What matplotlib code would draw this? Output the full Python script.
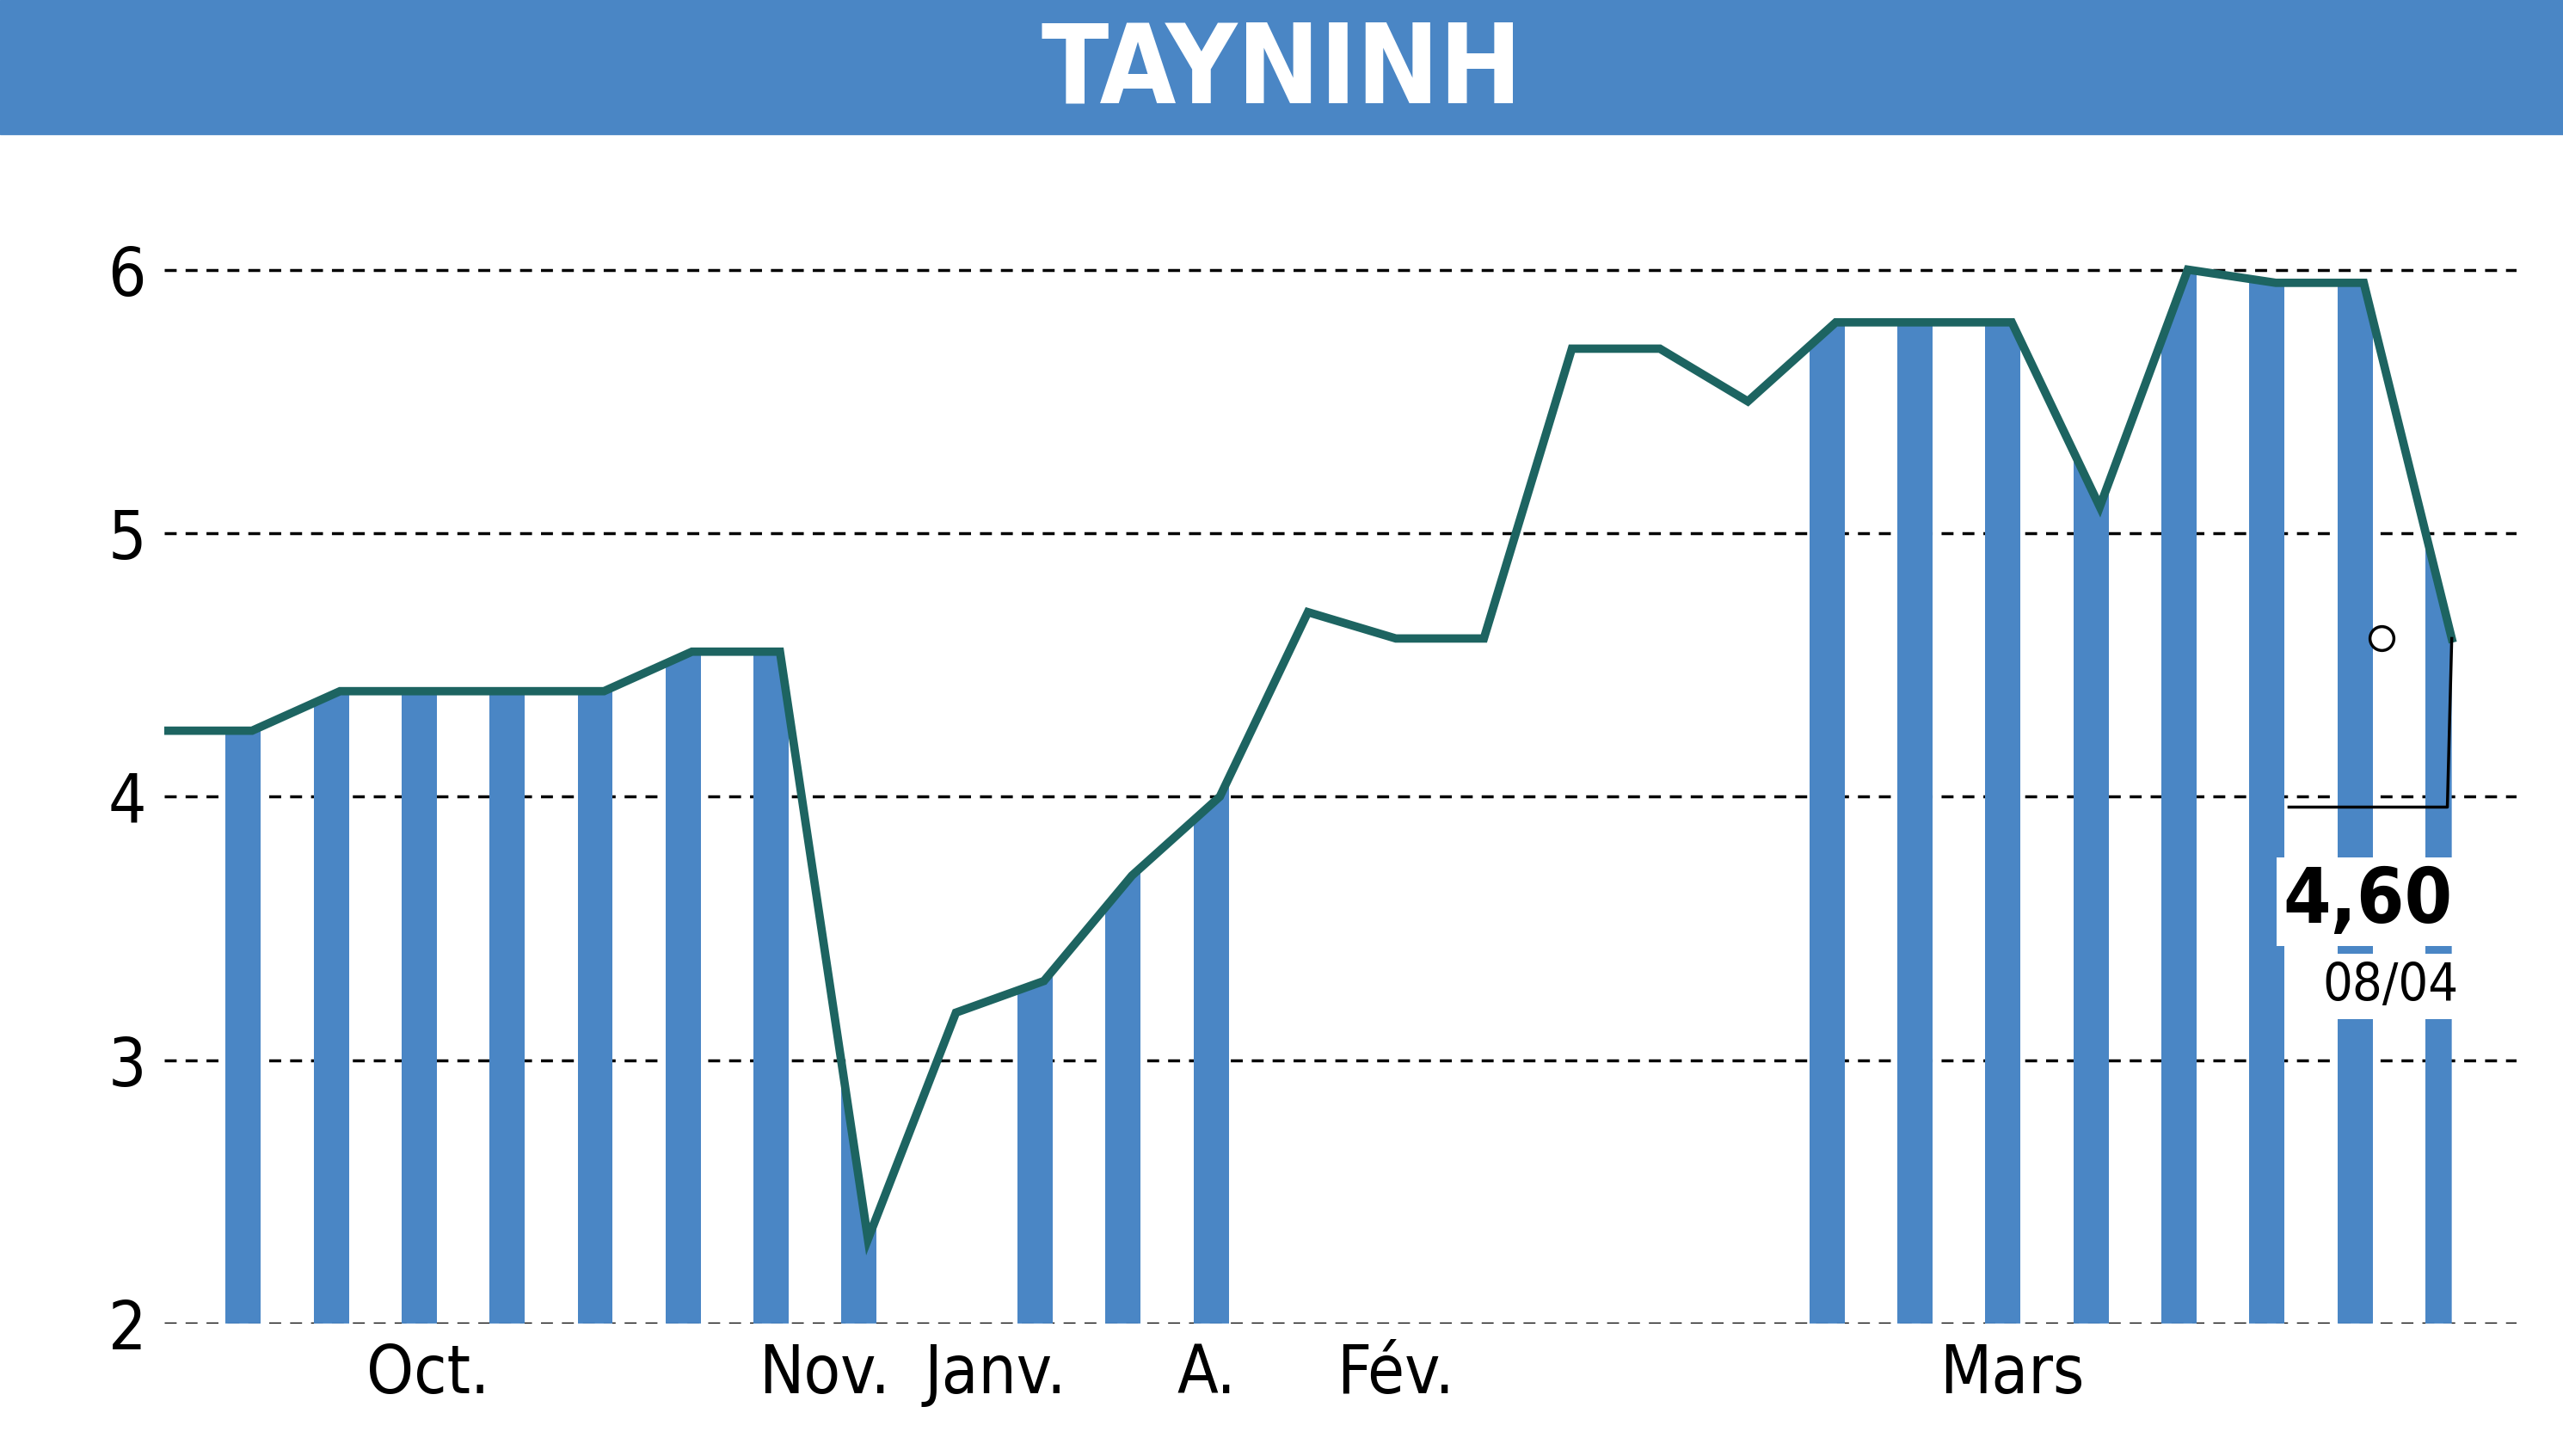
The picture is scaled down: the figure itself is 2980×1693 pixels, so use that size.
import matplotlib
matplotlib.use("Agg")
import matplotlib.pyplot as plt
from matplotlib.patches import Polygon, Rectangle
import numpy as np

values = [4.25, 4.25, 4.4, 4.4, 4.4, 4.4, 4.55, 4.55, 2.32, 3.18, 3.3, 3.7, 4.0, 4.7,
          4.6, 4.6, 5.7, 5.7, 5.5, 5.8, 5.8, 5.8, 5.1, 6.0, 5.95, 5.95, 4.6]
bar_idx = [1, 2, 3, 4, 5, 6, 7, 8, 10, 11, 12, 19, 20, 21, 22, 23, 24, 25, 26]
tick_pos = [3, 7.5, 9.45, 11.85, 14, 21]
tick_labels = ["Oct.", "Nov.", "Janv.", "A.", "Fév.", "Mars"]
title = "TAYNINH"
last_val, last_date = "4,60", "08/04"

blue = "#4a86c5"
green = "#1d6461"
fam = "DejaVu Sans"

fig = plt.figure(figsize=(29.8, 16.93), dpi=100)
fig.patches.append(Rectangle((0, 1 - 82 / 891), 1, 82 / 891, transform=fig.transFigure,
                             color=blue, zorder=0))
fig.text(0.5, 1 - 44 / 891, title, ha="center", va="center", color="white",
         fontsize=92, fontweight="bold", family=fam, fontstretch="condensed")

ax = fig.add_axes([0.064, 0.091, 0.918, 0.76])
x = np.arange(len(values))
ax.set_xlim(0, 26.74)
ax.set_ylim(2, 6.2)

poly = Polygon(list(zip(x, values)) + [(26, 2), (0, 2)], closed=True,
               facecolor="none", edgecolor="none", transform=ax.transData)
ax.add_patch(poly)
bars = ax.bar([i - 0.3 for i in bar_idx], [4.5] * len(bar_idx), bottom=2,
              width=0.4, align="edge", color=blue, zorder=2)
for b in bars:
    b.set_clip_path(poly)

for yv in [2, 3, 4, 5, 6]:
    ax.axhline(yv, color="black", ls=(0, (4, 3)), lw=2.5, zorder=1)

ax.plot(x, values, color=green, lw=7, zorder=3, solid_joinstyle="miter")

for s in ax.spines.values():
    s.set_visible(False)
ax.set_yticks([2, 3, 4, 5, 6])
ax.set_yticklabels(["2", "3", "4", "5", "6"])
ax.set_xticks(tick_pos)
ax.set_xticklabels(tick_labels)
ax.tick_params(length=0, labelsize=56, pad=15)
for t in ax.get_xticklabels() + ax.get_yticklabels():
    t.set_family(fam)
    t.set_fontstretch("condensed")

# annotation
ax.plot([25.2], [4.6], marker="o", ms=20, mfc="white", mec="black", mew=2.5, zorder=5)
ax.plot([26, 25.95, 24.15], [4.6, 3.96, 3.96], color="black", lw=2.5, zorder=5)
ax.text(25.05, 3.6, last_val, ha="center", va="center", fontsize=64, fontweight="bold",
        family=fam, fontstretch="condensed", zorder=6,
        bbox=dict(facecolor="white", edgecolor="none", pad=6))
ax.text(25.3, 3.28, last_date, ha="center", va="center", fontsize=44,
        family=fam, fontstretch="condensed", zorder=6,
        bbox=dict(facecolor="white", edgecolor="none", pad=6))

fig.savefig("out.png", dpi=100)
